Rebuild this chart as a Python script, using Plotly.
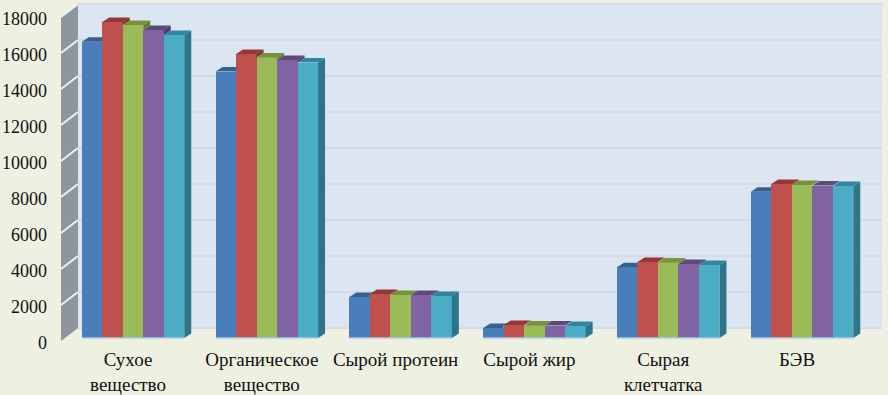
import plotly.graph_objects as go

categories = ["Сухое<br>вещество", "Органическое<br>вещество", "Сырой протеин", "Сырой жир", "Сырая<br>клетчатка", "БЭВ"]
series_1 = [16460, 14800, 2280, 555, 3930, 8130]
series_2 = [17555, 15780, 2440, 720, 4220, 8555]
series_3 = [17390, 15590, 2390, 695, 4200, 8500]
series_4 = [17110, 15440, 2390, 690, 4110, 8470]
series_5 = [16830, 15300, 2330, 670, 4050, 8440]
y_ticks = list(range(0, 18001, 2000))

series = [series_1, series_2, series_3, series_4, series_5]
front = ["#4a7ebb", "#c0504d", "#9bbb59", "#8064a2", "#4bacc6"]
top = ["#376092", "#953735", "#76923c", "#5f497a", "#31859c"]
side = ["#2f5480", "#7f2f2d", "#64802f", "#503d68", "#2f7589"]

W, H = 888, 395
L, R, T, B = 48, 888, 0, 346
px_x = 133.8          # pixels per category
px_y = 0.018          # pixels per value unit
x_range = [(L - 133) / px_x, (R - 133) / px_x]
y_range = [(338 - B) / px_y, (338 - T) / px_y]

w = 20.5 / px_x       # bar width
dx = 7 / px_x         # bar depth
dy = 4.5 / px_y
wall_x0 = (61 - 133) / px_x
wall_x1 = (78 - 133) / px_x
panel_x1 = (882 - 133) / px_x
wall_y0 = -3 / px_y
wall_dy = 13 / px_y

shapes = [
    dict(type="path", xref="x", yref="y", layer="below", line_width=0, fillcolor="#dce6f2",
         path=f"M{wall_x1},{wall_y0 + wall_dy} L{panel_x1},{wall_y0 + wall_dy} "
              f"L{panel_x1},{18000 + wall_y0 + wall_dy} L{wall_x1},{18000 + wall_y0 + wall_dy} Z"),
    dict(type="path", xref="x", yref="y", layer="below", line_width=0, fillcolor="#8f959d",
         path=f"M{wall_x0},{wall_y0} L{wall_x1},{wall_y0 + wall_dy} "
              f"L{wall_x1},{18000 + wall_y0 + wall_dy} L{wall_x0},{18000 + wall_y0} Z"),
]
for v in y_ticks:
    if v:
        shapes.append(dict(type="line", xref="x", yref="y", layer="below",
                           x0=wall_x0, y0=v + wall_y0, x1=wall_x1, y1=v + wall_y0 + wall_dy,
                           line=dict(color="#eef2f6", width=2)))
    shapes.append(dict(type="line", xref="x", yref="y", layer="below",
                       x0=wall_x1, y0=v + wall_y0 + wall_dy, x1=panel_x1, y1=v + wall_y0 + wall_dy,
                       line=dict(color="#d2dce6", width=2)))

fig = go.Figure()
xs = list(range(len(categories)))
for s, vals in enumerate(series):
    fig.add_trace(go.Bar(x=[i + (s - 2) * w for i in xs], y=vals, width=w,
                         marker=dict(color=front[s], line_width=0), showlegend=False))


def poly(pts, color):
    xx = [p[0] for p in pts] + [pts[0][0]]
    yy = [p[1] for p in pts] + [pts[0][1]]
    fig.add_trace(go.Scatter(x=xx, y=yy, mode="lines", fill="toself", fillcolor=color,
                             line=dict(width=0), showlegend=False, hoverinfo="skip"))


for i in xs:
    for s, vals in enumerate(series):
        h = vals[i]
        x0 = i + (s - 2.5) * w
        x1 = x0 + w
        nxt = series[s + 1][i] if s < 4 else 0
        if h > nxt:
            poly([(x1, nxt), (x1 + dx, nxt + dy), (x1 + dx, h + dy), (x1, h)], side[s])
        if nxt <= h:
            pts = [(x0, h), (x0 + dx, h + dy), (x1 + dx, h + dy), (x1, h)]
        elif nxt >= h + dy:
            pts = [(x0, h), (x0 + dx, h + dy), (x1, h + dy), (x1, h)]
        else:
            f = (nxt - h) / dy
            pts = [(x0, h), (x0 + dx, h + dy), (x1 + dx, h + dy), (x1 + dx * f, nxt), (x1, nxt), (x1, h)]
        poly(pts, top[s])
    fig.add_trace(go.Scatter(x=[i - 2.5 * w, i + 2.5 * w], y=[0, 0], mode="lines",
                             line=dict(color="#a9cfe6", width=1.5), showlegend=False, hoverinfo="skip"))

fig.update_layout(
    width=W, height=H, autosize=False,
    margin=dict(l=L, r=W - R, t=T, b=H - B, pad=0, autoexpand=False),
    paper_bgcolor="#eef0e2", plot_bgcolor="#eef0e2",
    barmode="overlay", bargap=0, shapes=shapes,
    font=dict(family="Liberation Serif", color="#111111"),
    xaxis=dict(range=x_range, tickmode="array", tickvals=xs, ticktext=categories, automargin=False,
               tickfont=dict(size=19), showgrid=False, zeroline=False, showline=False,
               ticks="", ticklen=0, ticklabelshift=-5),
    yaxis=dict(range=y_range, tickmode="array", tickvals=y_ticks, automargin=False,
               ticktext=[str(v) for v in y_ticks], tickfont=dict(size=18),
               showgrid=False, zeroline=False, showline=False,
               ticks="", ticklen=0, ticklabelshift=5),
)
fig.write_html("out.html", config=dict(displayModeBar=False),
               post_script="document.body.style.margin='0';document.body.style.overflow='hidden';"
                           "document.body.style.background='#eef0e2';")
